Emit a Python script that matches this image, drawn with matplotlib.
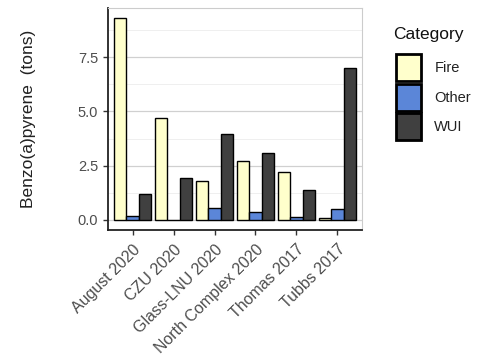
import matplotlib.pyplot as plt
import numpy as np
from matplotlib.patches import Patch

plt.rcParams['font.family'] = ['Liberation Sans', 'DejaVu Sans']

fires = ['August 2020', 'CZU 2020', 'Glass-LNU 2020', 'North Complex 2020', 'Thomas 2017', 'Tubbs 2017']
fire_vals = [9.3, 4.7, 1.8, 2.7, 2.2, 0.08]
other_vals = [0.2, 0.02, 0.53, 0.35, 0.14, 0.52]
wui_vals = [1.2, 1.95, 3.95, 3.07, 1.37, 7.0]
cats = ['Fire', 'Other', 'WUI']
colors = ['#FFFFCC', '#5B86D8', '#404040']

fig = plt.figure(figsize=(4.79, 3.6), dpi=100)
ax = fig.add_axes([0.2255, 0.361, 0.5302, 0.617])

x = np.arange(len(fires))
w = 0.3
for k, vals in enumerate([fire_vals, other_vals, wui_vals]):
    ax.bar(x + (k - 1) * w, vals, width=w, color=colors[k], edgecolor='black',
           linewidth=1.0, zorder=3)

ax.set_xlim(-0.6, len(fires) - 0.4)
ax.set_ylim(-0.465, 9.765)
ax.set_yticks([0, 2.5, 5.0, 7.5])
ax.set_yticklabels(['0.0', '2.5', '5.0', '7.5'])
ax.set_yticks([1.25, 3.75, 6.25, 8.75], minor=True)
ax.grid(axis='y', which='major', color='#d0d0d0', linewidth=0.9, zorder=0)
ax.grid(axis='y', which='minor', color='#ececec', linewidth=0.6, zorder=0)
ax.tick_params(axis='y', which='minor', length=0)
ax.set_xticks(x)
ax.set_xticklabels(fires, rotation=45, ha='right', rotation_mode='anchor')
ax.tick_params(axis='both', which='major', labelsize=10.5, labelcolor='#4d4d4d',
               color='#333333', length=3.5, width=1)
ax.tick_params(axis='x', labelsize=11.5, pad=5)

for s in ['top', 'right']:
    ax.spines[s].set_color('#cccccc')
    ax.spines[s].set_linewidth(0.8)
for s in ['left', 'bottom']:
    ax.spines[s].set_color('#222222')
    ax.spines[s].set_linewidth(1.3)

ax.set_ylabel('Benzo(a)pyrene  (tons)', fontsize=12.5, color='#222222')
ax.yaxis.set_label_coords(-0.285, 0.5)

fig.text(0.820, 0.903, 'Category', fontsize=12.5, color='#111111', ha='left', va='center')
handles = [Patch(facecolor=colors[k], edgecolor='black', linewidth=2) for k in range(3)]
leg = fig.legend(handles, cats, loc='upper left',
                 bbox_to_anchor=(0.826, 0.85), frameon=False, fontsize=10.5,
                 handlelength=1.75, handleheight=2.45, borderpad=0,
                 handletextpad=0.9, labelspacing=0.2, borderaxespad=0)
for t in leg.get_texts():
    t.set_color('#222222')

fig.savefig('out.png', dpi=100)
